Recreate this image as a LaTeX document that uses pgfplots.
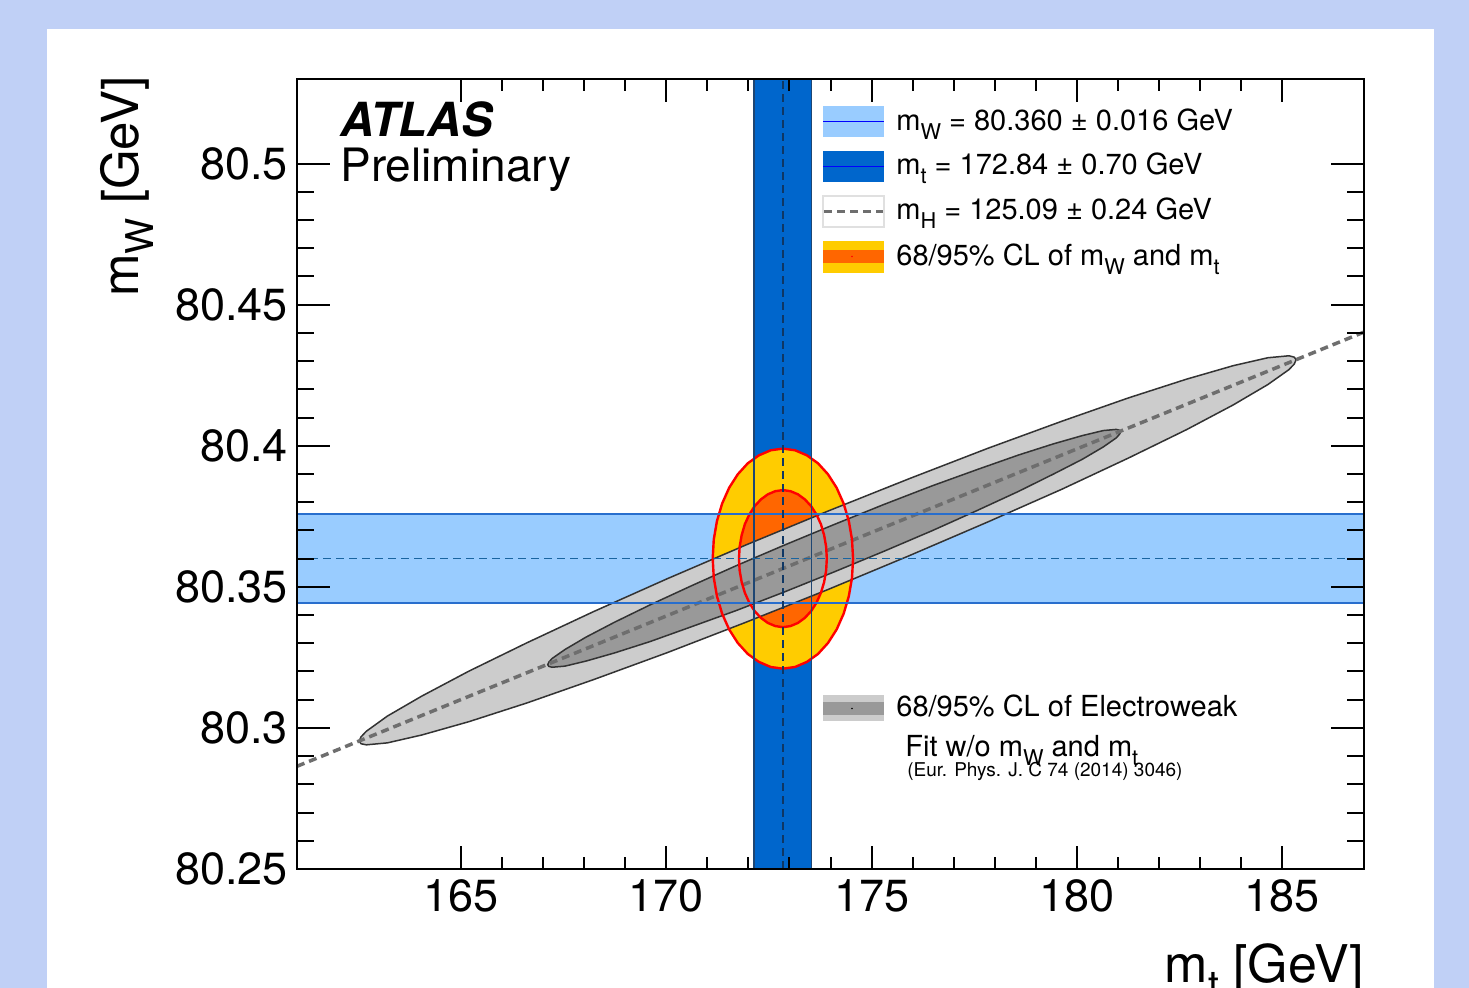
\documentclass[border=0pt]{standalone}
\usepackage{fontspec}
\setmainfont{TeX Gyre Heros}
\usepackage{pgfplots}
\pgfplotsset{compat=1.18}
\definecolor{slidebg}{RGB}{192,208,246}
\definecolor{lblue}{RGB}{153,204,255}
\definecolor{dblue}{RGB}{0,102,204}
\definecolor{lbedge}{RGB}{40,110,205}
\definecolor{dbedge}{RGB}{30,70,115}
\definecolor{mwdash}{RGB}{25,100,160}
\definecolor{mtdash}{RGB}{15,55,100}
\definecolor{cyellow}{RGB}{255,204,0}
\definecolor{corange}{RGB}{255,102,0}
\definecolor{glight}{RGB}{204,204,204}
\definecolor{gdark}{RGB}{153,153,153}
\definecolor{gline}{RGB}{51,51,51}
\definecolor{mhgray}{RGB}{110,110,110}
\newcommand{\fs}[1]{\fontsize{#1}{#1}\selectfont}
\newcommand{\sub}[1]{\raisebox{-0.3em}{\scalebox{0.75}{#1}}}
\begin{document}
\begin{tikzpicture}
\path[use as bounding box] (0,0) rectangle (734.5pt,494pt);
\clip (0,0) rectangle (734.5pt,494pt);
\begin{scope}[x=0.5pt,y=-0.5pt,shift={(0pt,494pt)}]
\fill[slidebg] (0,0) rectangle (1469,988);
\fill[white] (47,29) rectangle (1434,988);
\end{scope}

\begin{axis}[at={(148.5pt,59.5pt)}, anchor=south west,
  scale only axis, width=533.5pt, height=395pt,
  xmin=161, xmax=187, ymin=80.25, ymax=80.53,
  axis on top,
  axis line style={line width=1pt, black},
  tick style={line width=1pt, black},
  tick align=inside,
  xtick=\empty,
  ytick={80.25,80.3,80.35,80.4,80.45,80.5},
  yticklabels={80.25,80.3,80.35,80.4,80.45,80.5},
  minor y tick num=4,
  major tick length=16.5pt, minor tick length=8.5pt,
  yticklabel style={font=\fs{22.5}, anchor=east, inner sep=0pt, xshift=-4.5pt},
]
% m_W band
\addplot[draw=none, fill=lblue] coordinates {(161,80.344) (187,80.344) (187,80.376) (161,80.376)} -- cycle;
% m_t band
\addplot[draw=none, fill=dblue] coordinates {(172.14,80.25) (173.54,80.25) (173.54,80.53) (172.14,80.53)} -- cycle;
% 95% CL of mW, mt
\addplot[draw=none, fill=cyellow] coordinates {
(174.550,80.3600) (174.524,80.3668) (174.447,80.3733) (174.321,80.3795) (174.150,80.3851) (173.939,80.3899) (173.695,80.3938) (173.425,80.3966) (173.137,80.3984) (172.840,80.3990)
(172.543,80.3984) (172.255,80.3966) (171.985,80.3938) (171.741,80.3899) (171.530,80.3851) (171.359,80.3795) (171.233,80.3733) (171.156,80.3668) (171.130,80.3600)
(171.156,80.3532) (171.233,80.3467) (171.359,80.3405) (171.530,80.3349) (171.741,80.3301) (171.985,80.3262) (172.255,80.3234) (172.543,80.3216) (172.840,80.3210)
(173.137,80.3216) (173.425,80.3234) (173.695,80.3262) (173.939,80.3301) (174.150,80.3349) (174.321,80.3405) (174.447,80.3467) (174.524,80.3532)} -- cycle;
% 68% CL of mW, mt
\addplot[draw=none, fill=corange] coordinates {
(173.910,80.3600) (173.894,80.3642) (173.845,80.3683) (173.767,80.3722) (173.660,80.3756) (173.528,80.3786) (173.375,80.3810) (173.206,80.3828) (173.026,80.3839) (172.840,80.3843)
(172.654,80.3839) (172.474,80.3828) (172.305,80.3810) (172.152,80.3786) (172.020,80.3756) (171.913,80.3722) (171.835,80.3683) (171.786,80.3642) (171.770,80.3600)
(171.786,80.3558) (171.835,80.3517) (171.913,80.3479) (172.020,80.3444) (172.152,80.3414) (172.305,80.3390) (172.474,80.3372) (172.654,80.3361) (172.840,80.3357)
(173.026,80.3361) (173.206,80.3372) (173.375,80.3390) (173.528,80.3414) (173.660,80.3444) (173.767,80.3479) (173.845,80.3517) (173.894,80.3558)} -- cycle;
% EW fit 95%
\addplot[draw=gline, line width=0.75pt, fill=glight] coordinates {
(185.345,80.4305) (185.302,80.4314) (185.172,80.4319) (184.657,80.4312) (183.816,80.4284) (182.674,80.4236) (181.267,80.4170) (179.638,80.4087) (177.834,80.3991) (175.912,80.3883) (173.930,80.3768)
(171.948,80.3649) (170.026,80.3529) (168.223,80.3412) (166.593,80.3301) (165.186,80.3201) (164.044,80.3113) (163.203,80.3042) (162.688,80.2988) (162.559,80.2968) (162.515,80.2953)
(162.559,80.2944) (162.688,80.2940) (163.203,80.2947) (164.044,80.2975) (165.186,80.3022) (166.593,80.3088) (168.223,80.3171) (170.026,80.3267) (171.948,80.3375) (173.930,80.3490)
(175.912,80.3610) (177.834,80.3730) (179.638,80.3846) (181.267,80.3957) (182.674,80.4057) (183.816,80.4145) (184.657,80.4217) (185.172,80.4270) (185.302,80.4290)} -- cycle;
% EW fit 68%
\addplot[draw=gline, line width=0.75pt, fill=gdark] coordinates {
(181.070,80.4050) (181.043,80.4055) (180.964,80.4058) (180.649,80.4054) (180.135,80.4036) (179.437,80.4007) (178.577,80.3967) (177.580,80.3916) (176.477,80.3858) (175.302,80.3792) (174.090,80.3721)
(172.878,80.3648) (171.703,80.3575) (170.600,80.3503) (169.603,80.3436) (168.743,80.3375) (168.045,80.3322) (167.531,80.3278) (167.216,80.3246) (167.137,80.3233) (167.110,80.3224)
(167.137,80.3218) (167.216,80.3215) (167.531,80.3219) (168.045,80.3237) (168.743,80.3266) (169.603,80.3306) (170.600,80.3358) (171.703,80.3416) (172.878,80.3482) (174.090,80.3553)
(175.302,80.3626) (176.477,80.3699) (177.580,80.3771) (178.577,80.3838) (179.437,80.3900) (180.135,80.3952) (180.649,80.3996) (180.964,80.4028) (181.043,80.4041)} -- cycle;
% m_H line
\addplot[mhgray, line width=1.75pt, dash pattern=on 4pt off 2.5pt] coordinates {(161,80.2864) (187,80.4403)};
% red outlines
\addplot[red, line width=1.2pt] coordinates {
(174.550,80.3600) (174.524,80.3668) (174.447,80.3733) (174.321,80.3795) (174.150,80.3851) (173.939,80.3899) (173.695,80.3938) (173.425,80.3966) (173.137,80.3984) (172.840,80.3990)
(172.543,80.3984) (172.255,80.3966) (171.985,80.3938) (171.741,80.3899) (171.530,80.3851) (171.359,80.3795) (171.233,80.3733) (171.156,80.3668) (171.130,80.3600)
(171.156,80.3532) (171.233,80.3467) (171.359,80.3405) (171.530,80.3349) (171.741,80.3301) (171.985,80.3262) (172.255,80.3234) (172.543,80.3216) (172.840,80.3210)
(173.137,80.3216) (173.425,80.3234) (173.695,80.3262) (173.939,80.3301) (174.150,80.3349) (174.321,80.3405) (174.447,80.3467) (174.524,80.3532)} -- cycle;
\addplot[red, line width=1.2pt] coordinates {
(173.910,80.3600) (173.894,80.3642) (173.845,80.3683) (173.767,80.3722) (173.660,80.3756) (173.528,80.3786) (173.375,80.3810) (173.206,80.3828) (173.026,80.3839) (172.840,80.3843)
(172.654,80.3839) (172.474,80.3828) (172.305,80.3810) (172.152,80.3786) (172.020,80.3756) (171.913,80.3722) (171.835,80.3683) (171.786,80.3642) (171.770,80.3600)
(171.786,80.3558) (171.835,80.3517) (171.913,80.3479) (172.020,80.3444) (172.152,80.3414) (172.305,80.3390) (172.474,80.3372) (172.654,80.3361) (172.840,80.3357)
(173.026,80.3361) (173.206,80.3372) (173.375,80.3390) (173.528,80.3414) (173.660,80.3444) (173.767,80.3479) (173.845,80.3517) (173.894,80.3558)} -- cycle;
% band edges
\addplot[lbedge, line width=1pt] coordinates {(161,80.3442) (187,80.3442)};
\addplot[lbedge, line width=1pt] coordinates {(161,80.3758) (187,80.3758)};
\addplot[dbedge, line width=0.8pt] coordinates {(172.14,80.25) (172.14,80.53)};
\addplot[dbedge, line width=0.8pt] coordinates {(173.54,80.25) (173.54,80.53)};
% central values
\addplot[mwdash, line width=0.75pt, dash pattern=on 4pt off 2.5pt] coordinates {(161,80.360) (187,80.360)};
\addplot[mtdash, line width=0.75pt, dash pattern=on 4pt off 2.5pt] coordinates {(172.84,80.25) (172.84,80.53)};
\end{axis}

\begin{axis}[at={(148.5pt,59.5pt)}, anchor=south west,
  scale only axis, width=533.5pt, height=395pt,
  xmin=161, xmax=187, ymin=80.25, ymax=80.53,
  axis line style={line width=1pt, black},
  tick style={line width=1pt, black},
  tick align=inside,
  ytick=\empty,
  xtick={165,170,175,180,185},
  xticklabels={165,170,175,180,185},
  minor x tick num=4,
  major tick length=11.5pt, minor tick length=6pt,
  xticklabel style={font=\fs{22.5}, anchor=north, inner sep=0pt, yshift=-5pt},
]
\end{axis}

\begin{scope}[x=0.5pt,y=-0.5pt,shift={(0pt,494pt)}]
% texts
\node[anchor=base west, inner sep=0pt, font=\fs{23.5}\bfseries\itshape] at (340,137) {ATLAS};
\node[anchor=base west, inner sep=0pt, font=\fs{23}] at (340,182) {Preliminary};
\node[anchor=base east, inner sep=0pt, font=\fs{26}] at (1364,983) {m\sub{t} [GeV]};
\node[anchor=base east, inner sep=0pt, rotate=90, font=\fs{25.5}] at (138,76) {m\sub{W} [GeV]};
% legend symbols
\fill[lblue] (823,106) rectangle (884,137);
\draw[blue, line width=0.8pt] (823,121.5) -- (884,121.5);
\fill[dblue] (823,151) rectangle (884,182);
\draw[blue, line width=0.8pt] (823,166.5) -- (884,166.5);
\draw[black!12, fill=white, line width=0.6pt] (823,196) rectangle (884,227);
\draw[mhgray, line width=1.75pt, dash pattern=on 4pt off 2.5pt] (824,211.5) -- (883,211.5);
\fill[cyellow] (823,241) rectangle (884,273);
\fill[corange] (823,250) rectangle (884,263);
\fill[red] (852,256.5) circle (0.8);
\fill[glight] (823,695) rectangle (884,721);
\fill[gdark] (823,702) rectangle (884,715);
\fill[black] (852,708.5) circle (0.8);
% legend texts
\node[anchor=base west, inner sep=0pt, font=\fs{14.5}] at (896,131) {m\sub{W} = 80.360 ± 0.016 GeV};
\node[anchor=base west, inner sep=0pt, font=\fs{14.5}] at (896,175) {m\sub{t} = 172.84 ± 0.70 GeV};
\node[anchor=base west, inner sep=0pt, font=\fs{14.5}] at (896,220) {m\sub{H} = 125.09 ± 0.24 GeV};
\node[anchor=base west, inner sep=0pt, font=\fs{14.5}] at (896,266) {68/95\% CL of m\sub{W} and m\sub{t}};
\node[anchor=base west, inner sep=0pt, font=\fs{14.5}] at (896,717) {68/95\% CL of Electroweak};
\node[anchor=base west, inner sep=0pt, font=\fs{14.5}] at (905,757) {Fit w/o m\sub{W} and m\sub{t}};
\node[anchor=base west, inner sep=0pt, font=\fs{9.5}] at (907,777) {(Eur. Phys. J. C 74 (2014) 3046)};
\end{scope}
\end{tikzpicture}
\end{document}
